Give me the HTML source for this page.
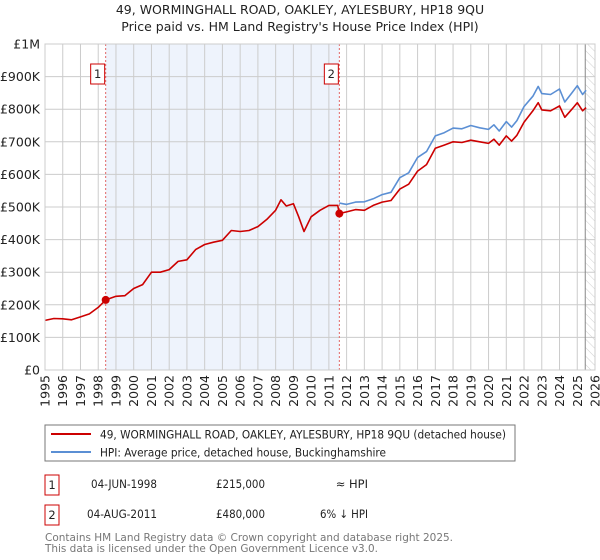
<!DOCTYPE html>
<html><head><meta charset="utf-8">
<style>
body{margin:0;background:#fff;font-family:"Liberation Sans","DejaVu Sans",sans-serif;}
#wrap{position:relative;width:600px;height:560px;overflow:hidden;}
</style></head><body>
<div id="wrap">
<svg id="chart" width="600" height="560" xmlns="http://www.w3.org/2000/svg" font-family="DejaVu Sans, Liberation Sans, sans-serif">
<defs>
<pattern id="hatch" width="6" height="6" patternUnits="userSpaceOnUse" patternTransform="rotate(-45)">
<line x1="0" y1="0" x2="0" y2="6" stroke="#cfcfcf" stroke-width="1"/>
</pattern>
</defs>
<text x="300" y="14" text-anchor="middle" font-size="12.5" fill="#222">49, WORMINGHALL ROAD, OAKLEY, AYLESBURY, HP18 9QU</text>
<text x="300" y="31" text-anchor="middle" font-size="12.5" fill="#222">Price paid vs. HM Land Registry's House Price Index (HPI)</text>
<g id="plot"></g>
<rect x="45" y="425" width="470" height="36" fill="#fff" stroke="#777"/>
<line x1="51" y1="434" x2="91" y2="434" stroke="#cc0000" stroke-width="2"/>
<text x="100" y="438.5" font-size="11.5" fill="#222" textLength="406" lengthAdjust="spacingAndGlyphs">49, WORMINGHALL ROAD, OAKLEY, AYLESBURY, HP18 9QU (detached house)</text>
<line x1="51" y1="452" x2="91" y2="452" stroke="#5b8fd4" stroke-width="2"/>
<text x="100" y="456.5" font-size="11.5" fill="#222" textLength="286" lengthAdjust="spacingAndGlyphs">HPI: Average price, detached house, Buckinghamshire</text>
<rect x="45" y="475" width="14" height="20" fill="#fff" stroke="#cc0000"/>
<text x="52" y="489" text-anchor="middle" font-size="11.5" fill="#222">1</text>
<text x="91" y="488" font-size="11.5" fill="#222" textLength="66" lengthAdjust="spacingAndGlyphs">04-JUN-1998</text>
<text x="216" y="488" font-size="11.5" fill="#222" textLength="49" lengthAdjust="spacingAndGlyphs">£215,000</text>
<text x="368" y="488" text-anchor="end" font-size="11.5" fill="#222">≈ HPI</text>
<rect x="45" y="505" width="14" height="20" fill="#fff" stroke="#cc0000"/>
<text x="52" y="519" text-anchor="middle" font-size="11.5" fill="#222">2</text>
<text x="87" y="518" font-size="11.5" fill="#222" textLength="70" lengthAdjust="spacingAndGlyphs">04-AUG-2011</text>
<text x="216" y="518" font-size="11.5" fill="#222" textLength="49" lengthAdjust="spacingAndGlyphs">£480,000</text>
<text x="368" y="518" text-anchor="end" font-size="11.5" fill="#222" textLength="48" lengthAdjust="spacingAndGlyphs">6% ↓ HPI</text>
<text x="45" y="541" font-size="11" fill="#777" textLength="408" lengthAdjust="spacingAndGlyphs">Contains HM Land Registry data © Crown copyright and database right 2025.</text>
<text x="45" y="552" font-size="11" fill="#777" textLength="333" lengthAdjust="spacingAndGlyphs">This data is licensed under the Open Government Licence v3.0.</text>
</svg>
</div>
<script>
const redYears=[1995,1995.5,1996,1996.5,1997,1997.5,1998,1998.42,1999,1999.5,2000,2000.5,2001,2001.5,2002,2002.5,2003,2003.5,2004,2004.5,2005,2005.5,2006,2006.5,2007,2007.5,2008,2008.3,2008.6,2009,2009.3,2009.6,2010,2010.5,2011,2011.5,2011.59,2012,2012.5,2013,2013.5,2014,2014.5,2015,2015.5,2016,2016.5,2017,2017.5,2018,2018.5,2019,2019.5,2020,2020.3,2020.6,2021,2021.3,2021.6,2022,2022.5,2022.8,2023,2023.5,2024,2024.3,2024.7,2025,2025.3,2025.5];
const redValues=[152,158,157,154,163,172,192,215,226,228,250,262,300,300,308,333,338,370,385,392,398,428,425,428,440,462,490,522,503,510,470,425,470,490,505,505,480,485,492,490,505,515,520,555,570,610,630,680,690,700,698,705,700,695,708,690,718,702,720,760,795,820,798,795,810,775,800,820,795,805];
const hpiYears=[2011.59,2012,2012.5,2013,2013.5,2014,2014.5,2015,2015.5,2016,2016.5,2017,2017.5,2018,2018.5,2019,2019.5,2020,2020.3,2020.6,2021,2021.3,2021.6,2022,2022.5,2022.8,2023,2023.5,2024,2024.3,2024.7,2025,2025.3,2025.5];
const hpiValues=[512,508,515,516,525,538,545,590,605,652,670,718,728,742,740,750,743,738,752,733,762,745,765,808,840,870,848,845,862,822,850,872,845,858];
const yTicks=[0,100,200,300,400,500,600,700,800,900,1000];
const yTickLabels=['£0','£100K','£200K','£300K','£400K','£500K','£600K','£700K','£800K','£900K','£1M'];
const xTicks=[1995,1996,1997,1998,1999,2000,2001,2002,2003,2004,2005,2006,2007,2008,2009,2010,2011,2012,2013,2014,2015,2016,2017,2018,2019,2020,2021,2022,2023,2024,2025,2026];
const saleYears=[1998.42,2011.59];
const saleValues=[215,480];
const saleLabels=['1','2'];
const X0=45,X1=595,Y0=370,Y1=44;
const xs=y=>X0+(y-1995)/(2026-1995)*(X1-X0);
const ys=v=>Y0-v/1000*(Y0-Y1);
const NS='http://www.w3.org/2000/svg';
const plot=document.getElementById('plot');
function mk(tag,attrs,parent){const e=document.createElementNS(NS,tag);for(const k in attrs)e.setAttribute(k,attrs[k]);(parent||plot).appendChild(e);return e;}
let r=mk('rect',{x:xs(saleYears[0]),y:Y1,width:xs(saleYears[1])-xs(saleYears[0]),height:Y0-Y1,fill:'#eef3fc'});


const hx=xs(2025.45);
r=mk('rect',{x:hx,y:Y1,width:X1-hx,height:Y0-Y1,fill:'url(#hatch)'});


yTicks.forEach((v,i)=>{
 const l=mk('line',{x1:X0,x2:X1,y1:ys(v),y2:ys(v),stroke:'#cccccc','stroke-width':1});
 
 
 const t=mk('text',{x:X0-5,y:ys(v)+4.5,'text-anchor':'end','font-size':12.5,fill:'#222'});
 t.textContent=yTickLabels[i];
 
 
});
xTicks.forEach(y=>{
 const l=mk('line',{x1:xs(y),x2:xs(y),y1:Y1,y2:Y0,stroke:'#cccccc','stroke-width':1});
 
 
 const t=mk('text',{x:0,y:0,'text-anchor':'end','font-size':12.5,fill:'#222',transform:`translate(${xs(y)+4.5},375) rotate(-90)`});
 t.textContent=y;
 
 
});
let vl=mk('line',{x1:hx,x2:hx,y1:Y1,y2:Y0,stroke:'#888','stroke-width':1});


saleYears.forEach((y,i)=>{
 const l=mk('line',{x1:xs(y),x2:xs(y),y1:Y1,y2:Y0,stroke:'#e06666','stroke-width':1,'stroke-dasharray':'2,2'});
 
 
});
function path(xv,yv,color,name){
 const d=xv.map((x,i)=>(i?'L':'M')+xs(x).toFixed(1)+','+ys(yv[i]).toFixed(1)).join('');
 const p=mk('path',{d:d,fill:'none',stroke:color,'stroke-width':1.6,'stroke-linejoin':'round'});
 
 
}
path(hpiYears,hpiValues,'#5b8fd4','hpi-line');
path(redYears,redValues,'#cc0000','property-line');
saleYears.forEach((y,i)=>{
 const c=mk('circle',{cx:xs(y),cy:ys(saleValues[i]),r:4,fill:'#cc0000'});
 
 
 const bx=xs(y)-15;
 const b=mk('rect',{x:bx,y:64,width:14,height:20,fill:'#fff',stroke:'#cc0000'});
 
 
 const t=mk('text',{x:bx+7,y:78,'text-anchor':'middle','font-size':11.5,fill:'#222'});
 t.textContent=saleLabels[i];
 
 
});
const border=mk('rect',{x:X0,y:Y1,width:X1-X0,height:Y0-Y1,fill:'none',stroke:'#cccccc'});


</script>
</body></html>
